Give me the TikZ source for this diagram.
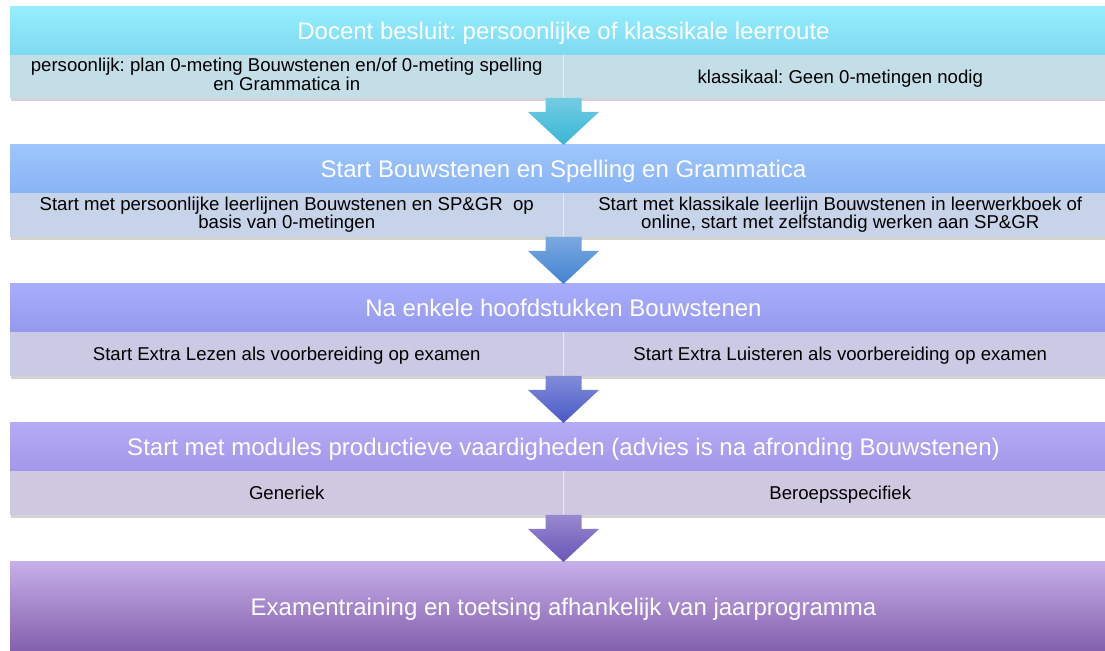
\documentclass[tikz,border=0pt]{standalone}
\usepackage{fontspec}
\setmainfont{Liberation Sans}
\usetikzlibrary{positioning,calc,shadows}
\frenchspacing

\definecolor{hdrAtop}{HTML}{96EEFD}
\definecolor{hdrAbot}{HTML}{7ED9F1}
\definecolor{cellAcol}{HTML}{C4DEE7}
\definecolor{hdrBtop}{HTML}{9EC6FC}
\definecolor{hdrBbot}{HTML}{88B3F4}
\definecolor{cellBcol}{HTML}{C7D3E8}
\definecolor{hdrCtop}{HTML}{A8ADFB}
\definecolor{hdrCbot}{HTML}{9599EE}
\definecolor{cellCcol}{HTML}{CBCAE4}
\definecolor{hdrDtop}{HTML}{B4ABF5}
\definecolor{hdrDbot}{HTML}{A397E9}
\definecolor{cellDcol}{HTML}{CEC9E1}
\definecolor{finaltop}{HTML}{C6AEE8}
\definecolor{finalmid}{HTML}{B59BD9}
\definecolor{finalbot}{HTML}{8460AD}
\definecolor{arrowA}{HTML}{38B6D6}
\definecolor{arrowB}{HTML}{4283D1}
\definecolor{arrowC}{HTML}{4A5AC7}
\definecolor{arrowD}{HTML}{6A55B9}

\begin{document}
\begin{tikzpicture}[
    x=0.5pt, y=-0.5pt,
    band/.style={rectangle, inner sep=0pt, outer sep=0pt, minimum width=553.5pt, minimum height=24pt, align=center, text=white, font=\fontsize{12}{13.5}\selectfont,
      execute at begin node=\rule{0pt}{11.5pt}, execute at end node=\rule[-2.9pt]{0pt}{2.9pt},
      drop shadow={shadow xshift=0.3pt, shadow yshift=-1.5pt, opacity=0.35}},
    cell/.style={rectangle, inner sep=0pt, outer sep=0pt, minimum width=276.75pt, minimum height=22pt, align=center, font=\fontsize{9.3}{9.15}\selectfont,
      execute at begin node=\rule{0pt}{9pt}, execute at end node=\rule[-2.34pt]{0pt}{2.34pt},
      drop shadow={shadow xshift=0.3pt, shadow yshift=-1.5pt, opacity=0.35}},
    twoline/.style={execute at begin node=\rule{0pt}{11pt}},
    divider/.style={white, line width=0.6pt, opacity=0.6}
]
\useasboundingbox (0,0) rectangle (1105,651);
\clip (0,0) rectangle (1105,651);

% step 1
\node[band, top color=hdrAtop, bottom color=hdrAbot] (hdrA) at (563.5,31) {Docent besluit: persoonlijke of klassikale leerroute};
\node[cell, twoline, fill=cellAcol, minimum height=21.5pt] (leftA) at (286.75,76.5) {persoonlijk: plan 0-meting Bouwstenen en/of 0-meting spelling\\en Grammatica in};
\node[cell, fill=cellAcol, minimum height=21.5pt] (rightA) at (840.25,76.5) {klassikaal: Geen 0-metingen nodig};
\draw[divider] (leftA.north east) -- (leftA.south east);

% step 2
\node[band, top color=hdrBtop, bottom color=hdrBbot] (hdrB) at (563.5,169) {Start Bouwstenen en Spelling en Grammatica};
\node[cell, twoline, fill=cellBcol] (leftB) at (286.75,215) {Start met persoonlijke leerlijnen Bouwstenen en SP\&GR\ \ op\\basis van 0-metingen};
\node[cell, twoline, fill=cellBcol] (rightB) at (840.25,215) {Start met klassikale leerlijn Bouwstenen in leerwerkboek of\\online, start met zelfstandig werken aan SP\&GR};
\draw[divider] (leftB.north east) -- (leftB.south east);

% step 3
\node[band, top color=hdrCtop, bottom color=hdrCbot] (hdrC) at (563.5,308) {Na enkele hoofdstukken Bouwstenen};
\node[cell, fill=cellCcol] (leftC) at (286.75,354) {Start Extra Lezen als voorbereiding op examen};
\node[cell, fill=cellCcol] (rightC) at (840.25,354) {Start Extra Luisteren als voorbereiding op examen};
\draw[divider] (leftC.north east) -- (leftC.south east);

% step 4
\node[band, top color=hdrDtop, bottom color=hdrDbot] (hdrD) at (563.5,447) {Start met modules productieve vaardigheden (advies is na afronding Bouwstenen)};
\node[cell, fill=cellDcol] (leftD) at (286.75,493) {Generiek};
\node[cell, fill=cellDcol] (rightD) at (840.25,493) {Beroepsspecifiek};
\draw[divider] (leftD.north east) -- (leftD.south east);

% exam
\node[band, minimum height=44.5pt, top color=finaltop, middle color=finalmid, bottom color=finalbot] (final) at (563.5,606.5) {Examentraining en toetsing afhankelijk van jaarprogramma};

% arrows between the steps
\foreach \from/\to/\col in {leftA/hdrB/arrowA, leftB/hdrC/arrowB, leftC/hdrD/arrowC, leftD/final/arrowD}
  \shade[top color=\col!70!white, bottom color=\col]
    ($(\from.south east)+(-18,0)$) -- ($(\from.south east)+(18,0)$) -- ($(\from.south east)+(18,14)$)
    -- ($(\from.south east)+(35.5,14)$) -- (\to.north) -- ($(\from.south east)+(-35.5,14)$)
    -- ($(\from.south east)+(-18,14)$) -- cycle;

\end{tikzpicture}
\end{document}
